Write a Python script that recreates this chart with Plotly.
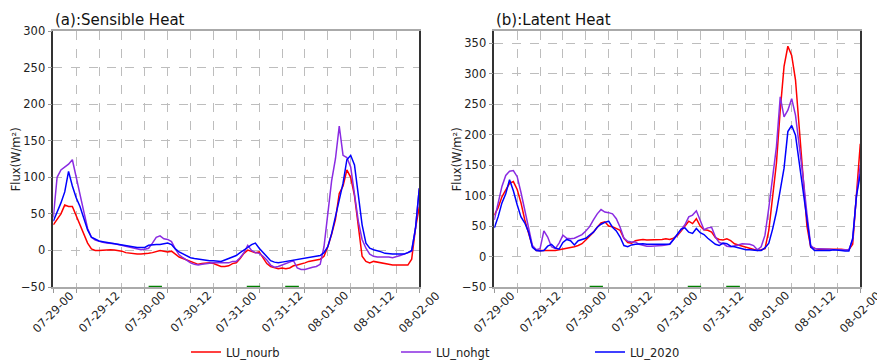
import pandas as pd
import plotly.graph_objects as go

# ---------------- data (hourly, 2020-07-29 00:00 .. 2020-08-02 00:00) ----------------
start_time = "2020-07-29 00:00"
n_hours = 97

sh_nourb = [35, 42, 50, 62, 60, 60, 48, 35, 22, 10,
            2, 0, 0, 0.5, 1, 1, 0.5, 0, -1, -3,
            -4, -5, -5, -5, -5, -4, -3, -2, 0, -1,
            -2, -1, -5, -9, -11, -13, -14, -17, -19, -18,
            -17, -17, -18, -20, -22, -22, -21, -18, -17, -11,
            -4, 0.5, -1, -3, -2, -10, -18, -22, -24, -25,
            -24, -25, -24, -21, -20, -19, -17, -15, -14, -13,
            -12, -8, 5, 22, 42, 78, 88, 110, 100, 75,
            35, -8, -15, -17, -15, -16, -18, -19, -19, -20,
            -20, -20, -20, -20, -12, 30, 60]
sh_nohgt = [45, 100, 110, 114, 118, 124, 100, 73, 53, 30,
            18, 14, 12, 11, 10, 10, 9, 8, 7, 5,
            4, 3, 2, 1, 1.5, 3, 10, 18, 20, 16,
            15, 12, 2, -6, -10, -14, -17, -19, -20, -19,
            -18, -18, -17, -17, -17, -18, -17, -15, -15, -10,
            -3, 7, 0, -3, -4, -8, -13, -20, -23, -22,
            -20, -18, -16, -14, -24, -26, -26, -24, -23, -22,
            -19, 5, 48, 95, 125, 170, 130, 127, 114, 80,
            40, 15, 3, -5, -8, -9, -9, -8, -9, -10,
            -9, -7, -5, -3, -1, 30, 85]
sh_2020 = [40, 52, 65, 80, 108, 88, 72, 60, 45, 28,
           18, 15, 13, 12, 11, 10, 9, 8, 7, 6,
           5, 5, 4, 4, 4, 7, 8, 8, 8, 9,
           10, 8, 2, -2, -5, -8, -10, -11, -12, -13,
           -13, -14, -14, -15, -15, -13, -11, -9, -7, -3,
           0, 4, 8, 10, 3, -3, -9, -14, -16, -17,
           -16, -15, -15, -14, -13, -12, -11, -10, -9, -8,
           -7, -3, 5, 23, 45, 70, 92, 124, 130, 117,
           76, 35, 10, 3, 1, 0, -2, -4, -5, -5,
           -5, -5, -5, -3, 0, 30, 85]

lh_nourb = [68, 80, 98, 110, 120, 123, 110, 88, 60, 38,
            17, 10, 10, 9, 9, 10, 10, 11, 12, 13,
            15, 16, 18, 21, 27, 33, 40, 48, 55, 57,
            50, 49, 46, 43, 30, 23, 22, 26, 27, 28,
            27, 27, 27, 28, 28, 29, 28, 30, 34, 42,
            50, 58, 54, 62, 50, 44, 43, 40, 31, 28,
            27, 29, 26, 21, 19, 17, 16, 13, 11, 10,
            11, 13, 43, 98, 153, 240, 312, 345, 330, 290,
            215, 135, 50, 15, 13, 12, 12, 12, 12, 13,
            13, 12, 11, 11, 20, 100, 185]
lh_nohgt = [60, 87, 115, 133, 140, 141, 131, 105, 75, 45,
            18, 11, 13, 42, 32, 16, 13, 22, 35, 30,
            29, 30, 33, 36, 42, 49, 60, 70, 77, 73,
            72, 70, 62, 48, 30, 25, 24, 24, 20, 18,
            17, 17, 17, 18, 18, 19, 20, 28, 36, 44,
            52, 65, 68, 75, 60, 44, 47, 48, 32, 23,
            21, 17, 16, 17, 19, 21, 21, 20, 18, 11,
            16, 35, 80, 130, 180, 262, 229, 240, 259, 232,
            185, 130, 70, 18, 13, 13, 13, 13, 12, 11,
            11, 10, 10, 11, 27, 100, 150]
lh_2020 = [47, 65, 88, 103, 126, 108, 85, 65, 55, 40,
           15, 10, 9, 10, 17, 20, 14, 12, 23, 28,
           26, 19, 26, 28, 30, 35, 40, 48, 53, 56,
           58, 48, 42, 32, 18, 16, 19, 20, 21, 21,
           20, 20, 20, 20, 20, 20, 20, 28, 36, 45,
           47, 40, 38, 46, 39, 36, 30, 25, 20, 18,
           22, 21, 17, 16, 14, 12, 11, 11, 10, 10,
           10, 14, 22, 45, 73, 110, 145, 205, 215, 199,
           155, 109, 62, 16, 10, 10, 9, 9, 10, 11,
           11, 10, 9, 9, 30, 100, 135]

# green marks on the bottom axis (periods)
mark_start = ["2020-07-30 01:00", "2020-07-31 02:45", "2020-07-31 12:50"]
mark_end = ["2020-07-30 04:30", "2020-07-31 06:15", "2020-07-31 16:25"]

tick_labels = ["07-29-00", "07-29-12", "07-30-00", "07-30-12", "07-31-00",
               "07-31-12", "08-01-00", "08-01-12", "08-02-00"]

series_names = ["LU_nourb", "LU_nohgt", "LU_2020"]
series_colors = ["#ff0000", "#8a2be2", "#0000ff"]
panel_titles = ["(a):Sensible Heat", "(b):Latent Heat"]
y_ranges = [[-50, 300], [-50, 370]]
y_title = "Flux(W/m²)"

# ---------------- figure ----------------
W, H = 877, 360
FONT = "DejaVu Sans"
times = pd.date_range(start_time, periods=n_hours, freq="h")

def tick_pos(lbl):
    m, d, hh = lbl.split("-")
    return pd.Timestamp(f"2020-{m}-{d} {hh}:00")

fig = go.Figure()

panels = [(sh_nourb, sh_nohgt, sh_2020), (lh_nourb, lh_nohgt, lh_2020)]
axis_ids = [("x", "y"), ("x2", "y2")]
legends = ["legend", "legend2", "legend3"]

for p, (vals, (xa, ya)) in enumerate(zip(panels, axis_ids)):
    for i, v in enumerate(vals):
        fig.add_trace(go.Scatter(
            x=times, y=v, mode="lines", name=series_names[i],
            line=dict(color=series_colors[i], width=1.5),
            xaxis=xa, yaxis=ya, showlegend=(p == 0), legend=legends[i],
        ))
    mx, my = [], []
    for s, e in zip(mark_start, mark_end):
        mx += [s, e, None]
        my += [y_ranges[p][0], y_ranges[p][0], None]
    fig.add_trace(go.Scatter(x=mx, y=my, mode="lines",
                             line=dict(color="#008000", width=2.5),
                             xaxis=xa, yaxis=ya, showlegend=False, hoverinfo="skip"))

x_domains = [[53.3 / W, 419.3 / W], [494.3 / W, 860.3 / W]]
y_domain = [1 - 287 / H, 1 - 31 / H]

common_x = dict(type="date", range=[times[0], times[-1]],
                showgrid=True, gridcolor="#bdbdbd", griddash="dash", gridwidth=1,
                tick0=times[0], dtick=6 * 3600 * 1000,
                ticks="outside", ticklen=4, tickcolor="#999999",
                showticklabels=False, showline=True, linecolor="#aaaaaa",
                linewidth=1.5, mirror=True, zeroline=False, automargin=False)
common_y = dict(showgrid=True, gridcolor="#bdbdbd", griddash="dash", gridwidth=1,
                dtick=50, ticks="outside", ticklen=4, tickcolor="#999999",
                tickfont=dict(family=FONT, size=11.5, color="#222222"),
                showline=True, linecolor="#333333", linewidth=1.5, mirror=True,
                zeroline=False, automargin=False)

fig.update_layout(
    xaxis=dict(common_x, domain=x_domains[0], anchor="y"),
    yaxis=dict(common_y, domain=y_domain, range=y_ranges[0], anchor="x"),
    xaxis2=dict(common_x, domain=x_domains[1], anchor="y2"),
    yaxis2=dict(common_y, domain=y_domain, range=y_ranges[1], anchor="x2"),
)

annotations = []
for p, (xa, ya) in enumerate(axis_ids):
    for lbl in tick_labels:
        annotations.append(dict(
            x=tick_pos(lbl), xref=xa, y=0, yref=f"{ya} domain", yshift=-25,
            text=lbl, textangle=-45, showarrow=False,
            xanchor="center", yanchor="middle",
            font=dict(family=FONT, size=11.5, color="#222222")))
    annotations.append(dict(
        x=0, xref=f"{xa} domain", y=1, yref=f"{ya} domain", yshift=0,
        text=panel_titles[p], showarrow=False, xanchor="left", yanchor="bottom",
        font=dict(family=FONT, size=15, color="#111111")))
    annotations.append(dict(
        x=0, xref=f"{xa} domain", xshift=-37, y=0.5, yref=f"{ya} domain",
        text=y_title, textangle=-90, showarrow=False,
        xanchor="center", yanchor="middle",
        font=dict(family=FONT, size=11.5, color="#222222")))

leg_x = [186, 396, 590]
leg_common = dict(orientation="h", xref="container", yref="container",
                  y=1 - 352 / H, yanchor="middle", xanchor="left",
                  bgcolor="rgba(0,0,0,0)", borderwidth=0,
                  font=dict(family=FONT, size=11.5, color="#222222"))

fig.update_layout(
    width=W, height=H, autosize=False,
    margin=dict(l=0, r=0, t=0, b=0, autoexpand=False),
    paper_bgcolor="white", plot_bgcolor="white",
    font=dict(family=FONT, size=11.5, color="#222222"),
    annotations=annotations,
    legend=dict(leg_common, x=leg_x[0] / W),
    legend2=dict(leg_common, x=leg_x[1] / W),
    legend3=dict(leg_common, x=leg_x[2] / W),
)

fig.write_html("out.html")
